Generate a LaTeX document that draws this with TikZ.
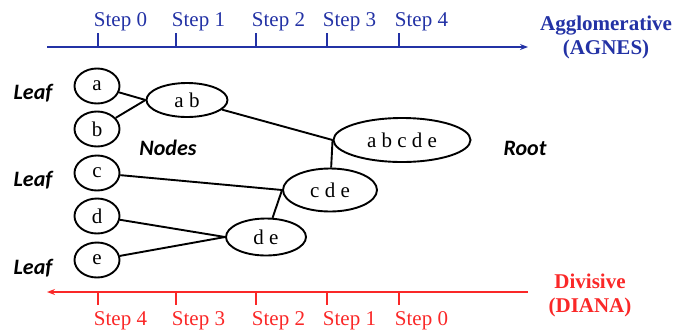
\documentclass[tikz,border=0pt]{standalone}
\usepackage{fontspec}
\setmainfont{Liberation Serif}
\newfontfamily\labelfont{Carlito}
\usepackage{tikz}
\usetikzlibrary{shapes.geometric,arrows.meta}
\definecolor{aggblue}{RGB}{35,50,165}
\definecolor{divred}{RGB}{250,40,40}

\begin{document}
\begin{tikzpicture}[x=1pt, y=-1pt, line width=1.9pt, >={Stealth[length=8pt,width=6pt]},
  every node/.style={font=\fontsize{21}{24}\selectfont},
  leaf/.style={ellipse,draw,minimum width=45pt,minimum height=35pt,inner sep=0pt},
  cluster/.style={ellipse,draw,inner sep=0pt},
  tag/.style={font=\labelfont\bfseries\itshape\fontsize{22}{24}\selectfont},
  method/.style={font=\bfseries\fontsize{21}{24}\selectfont,align=center}]
\useasboundingbox (0,0) rectangle (676,333);

% time axes
\draw[aggblue,->] (47,47) -- (528,47);
\draw[divred,->] (528,292) -- (47,292);
\foreach \x/\s/\t in {98/0/4, 176/1/3, 256/2/2, 327/3/1, 399/4/0} {
  \draw[aggblue,line width=1.6pt] (\x,33) -- (\x,47);
  \node[aggblue,anchor=base west,inner sep=0pt] at (\x-5,26) {Step \s};
  \draw[divred,line width=1.6pt] (\x,292) -- (\x,305);
  \node[divred,anchor=base west,inner sep=0pt] at (\x-5,325) {Step \t};
}
\node[method,aggblue] (agnes) at (606,37) {Agglomerative\\(AGNES)};
\node[method,divred] (diana) at (590,295) {Divisive\\(DIANA)};

% leaves
\node[leaf] (a) at (97,86) {a};
\node[leaf] (b) at (97,129) {b};
\node[leaf] (c) at (97,173) {c};
\node[leaf] (d) at (97,216) {d};
\node[leaf] (e) at (97,260) {e};

% merged clusters
\node[cluster,minimum width=81pt,minimum height=34pt] (ab) at (187,100) {a b};
\node[cluster,minimum width=80pt,minimum height=37pt] (de) at (266,237) {d e};
\node[cluster,minimum width=94pt,minimum height=43pt] (cde) at (330,190) {c d e};
\node[cluster,minimum width=137pt,minimum height=44pt] (abcde) at (402,140) {a b c d e};

\draw (a) -- (ab.west);
\draw (b) -- (ab.west);
\draw (d) -- (de.west);
\draw (e) -- (de.west);
\draw (c) -- (cde.west);
\draw (de) -- (cde.west);
\draw (ab) -- (abcde.west);
\draw (cde) -- (abcde.west);

% labels
\node[tag] (leaf1) at (33,93) {Leaf};
\node[tag] (leaf2) at (33,180) {Leaf};
\node[tag] (leaf3) at (33,268) {Leaf};
\node[tag] (nodes) at (168,148) {Nodes};
\node[tag] (root) at (525,148) {Root};
\end{tikzpicture}
\end{document}
